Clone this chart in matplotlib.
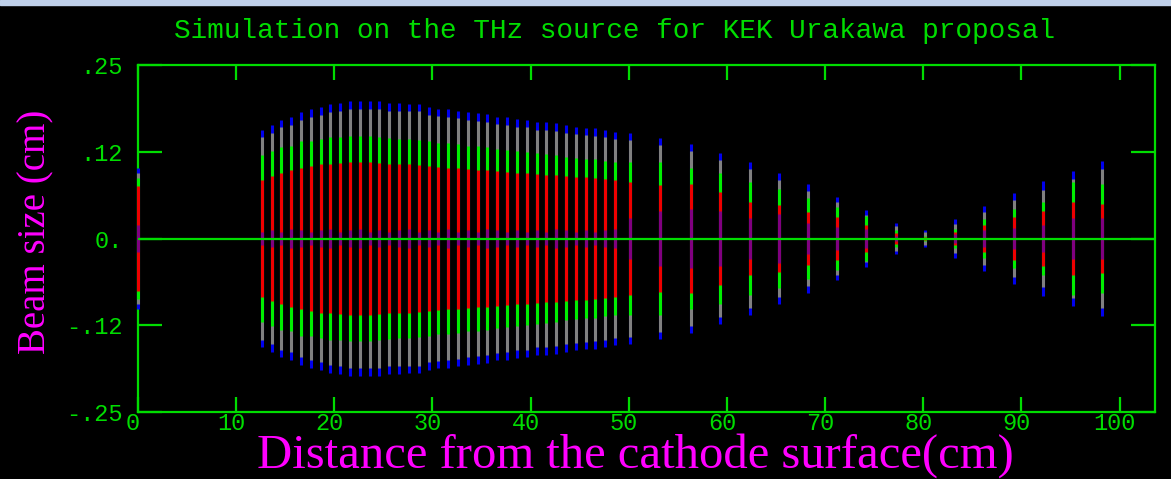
import matplotlib
matplotlib.use('Agg')
import matplotlib.pyplot as plt
import matplotlib.transforms as mtransforms
from matplotlib.patches import Rectangle

# Beam envelope along the gun: each column is a slice of particles,
# drawn as nested colour bands (outer edge half-size of each band, cm)

POS = [0.0,
       12.6, 13.6, 14.6, 15.6, 16.6, 17.6, 18.6, 19.6, 20.6, 21.6,
       22.6, 23.6, 24.6, 25.6, 26.6, 27.6, 28.6, 29.6, 30.6, 31.6,
       32.6, 33.6, 34.6, 35.6, 36.6, 37.6, 38.6, 39.6, 40.6, 41.6,
       42.6, 43.6, 44.6, 45.6, 46.6, 47.6, 48.6,
       50.1,
       53.2, 56.3, 59.3, 62.3, 65.3, 68.3, 71.2, 74.2,
       77.2, 80.2, 83.2, 86.2, 89.2, 92.2, 95.2, 98.2]

BLUE = [0.102,
        .157, .163, .171, .175, .182, .186, .189, .194, .195, .198,
        .198, .198, .198, .195, .195, .194, .194, .189, .186, .186,
        .184, .182, .181, .179, .175, .175, .172, .171, .168, .168,
        .166, .163, .160, .159, .159, .156, .153,
        .152,
        .145, .136, .123, .110, .094, .078, .060, .041,
        .023, .012, .028, .047, .066, .083, .097, .112]

GRAY = [0.095,
        .146, .152, .160, .164, .171, .175, .178, .182, .184, .186,
        .187, .187, .186, .184, .184, .183, .183, .178, .176, .175,
        .173, .171, .170, .168, .165, .164, .161, .160, .157, .157,
        .155, .152, .150, .149, .148, .146, .143,
        .142,
        .135, .126, .113, .100, .085, .069, .052, .034,
        .018, .009, .021, .038, .056, .070, .086, .100]

GREEN = [0.087,
         .121, .126, .132, .134, .140, .141, .143, .146, .146, .148,
         .147, .147, .146, .145, .144, .143, .142, .140, .138, .137,
         .136, .134, .133, .132, .129, .128, .126, .125, .123, .122,
         .120, .118, .116, .115, .114, .112, .110,
         .110,
         .110, .101, .094, .081, .072, .058, .045, .033,
         .012, .004, .014, .028, .043, .052, .081, .079]

RED = [0.076,
       .084, .090, .095, .098, .102, .105, .107, .108, .109, .110,
       .110, .110, .109, .108, .108, .107, .106, .104, .103, .102,
       .101, .100, .099, .098, .097, .096, .095, .094, .093, .092,
       .091, .090, .089, .088, .087, .086, .084,
       .081,
       .077, .079, .067, .052, .048, .038, .031, .019,
       .008, .002, .010, .019, .031, .040, .052, .050]

PURPLE = [0.020,
          .010, .012, .010, .014, .012, .010, .012, .014, .010, .012,
          .014, .010, .012, .010, .012, .014, .010, .012, .010, .014,
          .010, .012, .010, .014, .012, .010, .012, .010, .012, .010,
          .014, .012, .010, .012, .010, .012, .014,
          .030,
          .040, .042, .040, .030, .036, .022, .016, .014,
          .004, .000, .006, .012, .015, .020, .030, .030]

XTICKS = [0, 10, 20, 30, 40, 50, 60, 70, 80, 90, 100]
YTICKS = [-0.25, -0.125, 0.0, 0.125, 0.25]
YTICKLABELS = ['-.25', '-.12', '0.', '.12', '.25']

TITLE = 'Simulation on the THz source for KEK Urakawa proposal'
XLABEL = 'Distance from the cathode surface(cm)'
YLABEL = 'Beam size (cm)'

AXCOL = '#00dd00'
MAG = '#ff00ff'
MONO = 'Liberation Mono'
SERIF = 'Liberation Serif'

fig = plt.figure(figsize=(11.71, 4.79), dpi=100, facecolor='black')
ax = fig.add_axes([138 / 1171, 67 / 479, 1017 / 1171, 347 / 479])
ax.set_facecolor('black')

layers = [(BLUE, '#0000ee'), (GRAY, '#808080'), (GREEN, '#00ee00'),
          (RED, '#ee0000'), (PURPLE, '#800080')]
for vals, col in layers:
    ax.vlines(POS, [-v for v in vals], vals, colors=col, lw=2.2,
              zorder=3, clip_on=False)

ax.axhline(0, color=AXCOL, lw=1.6, zorder=4)

ax.set_xlim(0, 103.6)
ax.set_ylim(-0.25, 0.25)

for s in ax.spines.values():
    s.set_color(AXCOL)
    s.set_linewidth(1.6)

ax.set_xticks(XTICKS)
ax.set_xticklabels([str(t) for t in XTICKS])
ax.set_yticks(YTICKS)
ax.set_yticklabels(YTICKLABELS)
ax.tick_params(axis='x', direction='in', length=11, width=1.6, color=AXCOL,
               top=True, bottom=True, labelcolor=AXCOL, labelsize=17, pad=0)
ax.tick_params(axis='y', direction='in', length=17, width=1.6, color=AXCOL,
               left=True, right=True, labelcolor=AXCOL, labelsize=17, pad=11)
for lab in ax.get_xticklabels() + ax.get_yticklabels():
    lab.set_family(MONO)
shift = mtransforms.ScaledTranslation(-5 / 100, 0, fig.dpi_scale_trans)
for lab in ax.get_xticklabels():
    lab.set_transform(lab.get_transform() + shift)

fig.text(615 / 1171, 1 - 31 / 479, TITLE, color=AXCOL, family=MONO,
         fontsize=20, ha='center', va='center')
fig.text(635 / 1171, 1 - 456 / 479, XLABEL, color=MAG, family=SERIF,
         fontsize=35, ha='center', va='center')
fig.text(36 / 1171, 1 - 232 / 479, YLABEL, color=MAG, family=SERIF,
         fontsize=28, ha='center', va='center', rotation=90)

# light strip along the top edge of the window
fig.patches.append(Rectangle((0, 1 - 5 / 479), 1, 5 / 479,
                             transform=fig.transFigure, color='#bfd0ea'))

fig.savefig('out.png', dpi=100, facecolor='black')
